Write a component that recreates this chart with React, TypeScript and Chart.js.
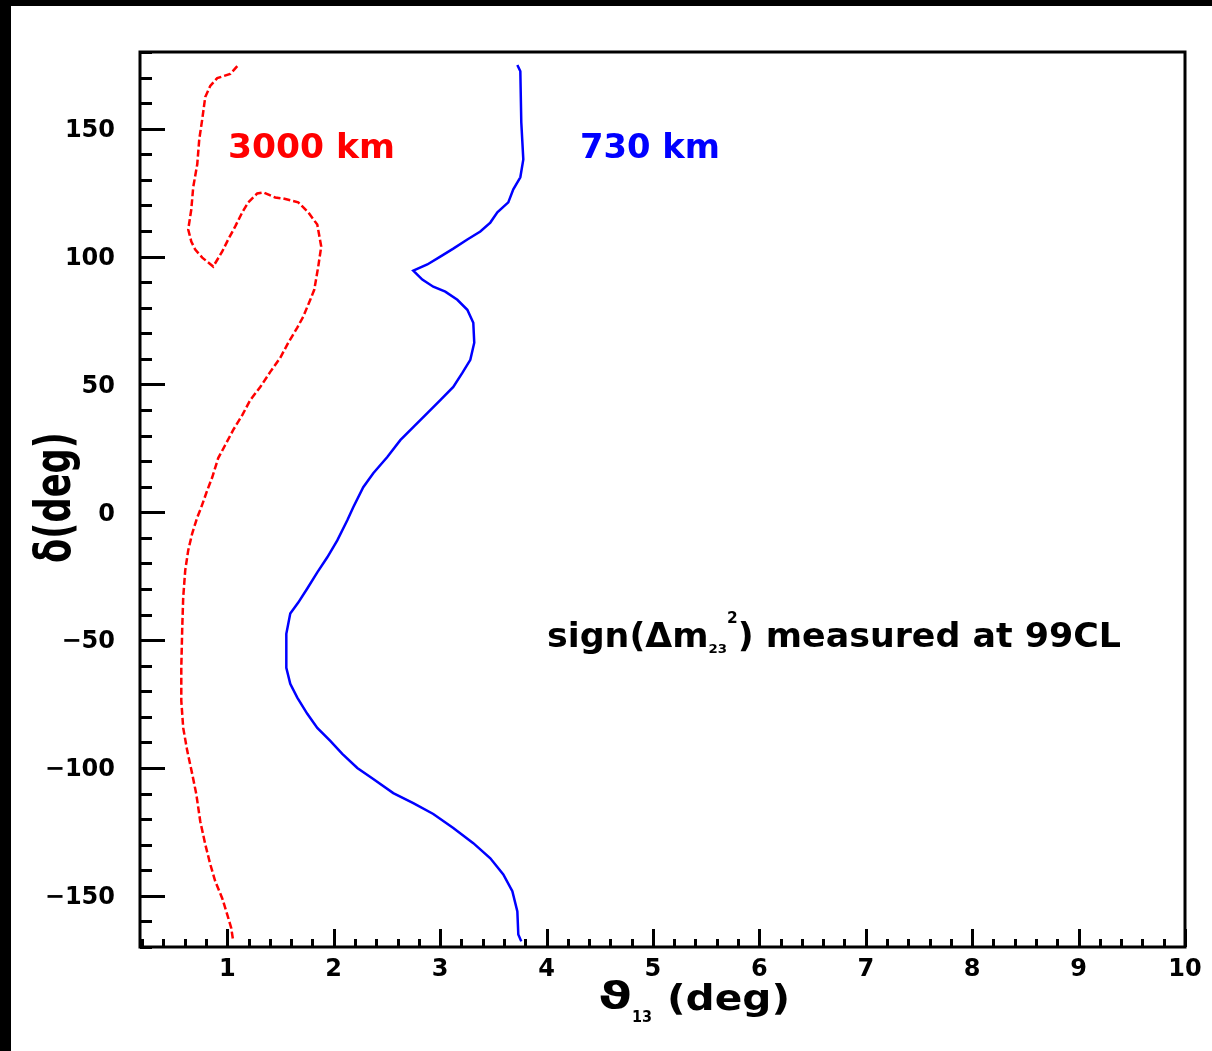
import React, { useEffect, useRef } from 'react';
import { Chart, registerables } from 'chart.js';

Chart.register(...registerables);

const W = 1212;
const H = 1051;

// Axis ranges and tick labels
const X_MIN = 0.18;
const X_MAX = 10;
const Y_MIN = -170;
const Y_MAX = 180;
const xTickValues = [1, 2, 3, 4, 5, 6, 7, 8, 9, 10];
const yTickValues = [-150, -100, -50, 0, 50, 100, 150];

// 3000 km contour (red, dashed): theta13 (deg) and delta (deg)
const red3000Theta = [
  1.094, 1.028, 0.906, 0.84, 0.793, 0.765, 0.737, 0.718, 0.68, 0.662, 0.633, 0.662, 0.699, 0.765, 0.868,
  0.953, 1.009, 1.075, 1.141, 1.197, 1.282, 1.338, 1.451, 1.526, 1.667, 1.761, 1.846, 1.883, 1.855, 1.818,
  1.78, 1.714, 1.658, 1.573, 1.498, 1.404, 1.31, 1.216, 1.141, 1.056, 0.981, 0.915, 0.859, 0.812, 0.756,
  0.718, 0.671, 0.633, 0.605, 0.586, 0.577, 0.568, 0.568, 0.586, 0.624, 0.671, 0.709, 0.746, 0.793, 0.84,
  0.887, 0.953, 1.0, 1.038, 1.056,
];
const red3000Delta = [
  174.5, 171.4, 169.8, 166.7, 162.4, 153.7, 145.9, 136.1, 127.1, 118.4, 110.6, 105.9, 102.7, 99.6, 96.1,
  102.0, 106.7, 111.8, 117.3, 121.2, 124.7, 125.1, 123.1, 122.7, 121.2, 117.3, 112.5, 103.9, 96.1, 87.1,
  83.1, 76.5, 72.2, 66.3, 60.4, 54.9, 49.0, 43.9, 38.0, 32.2, 26.3, 21.2, 13.7, 8.6, 2.0,
  -2.0, -8.2, -14.9, -22.7, -33.3, -45.1, -60.8, -73.7, -84.3, -93.3, -102.4, -110.2, -120.8, -129.8, -137.6,
  -144.3, -151.0, -157.3, -162.7, -167.8,
];

// 730 km contour (blue, solid)
const blue730Theta = [
  3.726, 3.754, 3.763, 3.782, 3.754, 3.688, 3.641, 3.538, 3.472, 3.378, 3.256, 3.124, 3.002, 2.88, 2.748,
  2.833, 2.936, 3.049, 3.162, 3.256, 3.312, 3.321, 3.284, 3.209, 3.124, 3.002, 2.88, 2.748, 2.626, 2.504,
  2.372, 2.278, 2.184, 2.128, 2.034, 1.94, 1.846, 1.752, 1.667, 1.592, 1.555, 1.555, 1.592, 1.658, 1.752,
  1.846, 1.968, 2.081, 2.222, 2.372, 2.56, 2.748, 2.936, 3.124, 3.312, 3.472, 3.594, 3.679, 3.726, 3.735,
  3.763,
];
const blue730Delta = [
  174.9, 172.5, 152.5, 138.0, 131.0, 126.3, 121.2, 117.3, 113.3, 109.8, 106.7, 103.1, 100.0, 96.9, 94.5,
  91.0, 88.2, 86.3, 83.1, 79.2, 74.1, 66.3, 59.6, 54.5, 49.0, 43.9, 38.8, 33.3, 28.2, 21.6,
  15.3, 9.8, 2.0, -3.1, -11.0, -17.6, -23.5, -29.8, -35.3, -39.6, -47.5, -60.8, -67.1, -72.5, -78.8,
  -84.3, -89.4, -94.5, -100.0, -104.3, -109.8, -113.7, -118.0, -123.5, -129.4, -135.3, -141.6, -148.2, -156.1, -165.1,
  -167.8,
];

const FONT = '"DejaVu Sans", "Liberation Sans", sans-serif';

type Run = { t: string; size: number; dy: number };

function drawRuns(
  ctx: CanvasRenderingContext2D,
  runs: Run[],
  x: number,
  baseline: number,
  targetWidth: number,
  color: string,
) {
  ctx.save();
  ctx.fillStyle = color;
  ctx.textAlign = 'left';
  ctx.textBaseline = 'alphabetic';
  let natural = 0;
  const widths = runs.map((r) => {
    ctx.font = `bold ${r.size}px ${FONT}`;
    const w = ctx.measureText(r.t).width;
    natural += w;
    return w;
  });
  const sx = targetWidth / natural;
  ctx.translate(x, baseline);
  ctx.scale(sx, 1);
  let cx = 0;
  runs.forEach((r, i) => {
    ctx.font = `bold ${r.size}px ${FONT}`;
    ctx.fillText(r.t, cx, r.dy);
    cx += widths[i];
  });
  ctx.restore();
}

const decorPlugin = {
  id: 'decor',
  beforeDraw(chart: any) {
    const ctx: CanvasRenderingContext2D = chart.ctx;
    ctx.save();
    ctx.fillStyle = '#ffffff';
    ctx.fillRect(0, 0, W, H);
    ctx.fillStyle = '#000000';
    ctx.fillRect(0, 0, W, 6);
    ctx.fillRect(0, 0, 11, H);
    ctx.restore();
  },
  afterDraw(chart: any) {
    const ctx: CanvasRenderingContext2D = chart.ctx;
    const { left, top, right, bottom } = chart.chartArea;
    const xs = chart.scales.x;
    const ys = chart.scales.y;
    ctx.save();
    ctx.strokeStyle = '#000000';
    ctx.lineWidth = 3;
    ctx.strokeRect(left, top, right - left, bottom - top);

    // y ticks (inside, from left axis)
    for (let v = -170; v <= 180; v += 10) {
      const py = Math.round(ys.getPixelForValue(v)) + 0.5;
      const major = v % 50 === 0;
      const len = major ? 25 : 12;
      ctx.beginPath();
      ctx.moveTo(left, py);
      ctx.lineTo(left + len, py);
      ctx.stroke();
    }
    // x ticks (inside, from bottom axis)
    for (let i = 1; i <= 50; i++) {
      const v = i * 0.2;
      const px = Math.round(xs.getPixelForValue(v)) + 0.5;
      const major = i % 5 === 0;
      const len = major ? 18 : 8;
      ctx.beginPath();
      ctx.moveTo(px, bottom);
      ctx.lineTo(px, bottom - len);
      ctx.stroke();
    }

    // curve labels
    drawRuns(ctx, [{ t: '3000 km', size: 34, dy: 0 }], 228, 158, 167, '#ff0000');
    drawRuns(ctx, [{ t: '730 km', size: 34, dy: 0 }], 580, 158, 140, '#0000ff');
    drawRuns(
      ctx,
      [
        { t: 'sign(\u0394m', size: 34, dy: 0 },
        { t: '23', size: 13, dy: 6 },
        { t: '2', size: 15, dy: -24 },
        { t: ') measured at 99CL', size: 34, dy: 0 },
      ],
      547,
      647,
      574,
      '#000000',
    );

    // x axis title
    drawRuns(ctx, [{ t: '\u03d1', size: 38, dy: 0 }], 598, 1008, 34, '#000000');
    drawRuns(ctx, [{ t: '13', size: 15, dy: 0 }], 632, 1022, 20, '#000000');
    drawRuns(ctx, [{ t: '(deg)', size: 36, dy: 0 }], 667, 1010, 123, '#000000');

    // y axis title (rotated)
    ctx.save();
    ctx.translate(70, 563);
    ctx.rotate(-Math.PI / 2);
    drawRuns(ctx, [{ t: '\u03b4(deg)', size: 50, dy: 0 }], 0, 0, 131, '#000000');
    ctx.restore();

    ctx.restore();
  },
};

export default function App() {
  const canvasRef = useRef<HTMLCanvasElement | null>(null);

  useEffect(() => {
    const canvas = canvasRef.current;
    if (!canvas) return;
    const redData = red3000Theta.map((x, i) => ({ x, y: red3000Delta[i] }));
    const blueData = blue730Theta.map((x, i) => ({ x, y: blue730Delta[i] }));

    const chart = new Chart(canvas, {
      type: 'scatter',
      data: {
        datasets: [
          {
            label: '3000 km',
            data: redData,
            showLine: true,
            borderColor: '#ff0000',
            borderWidth: 2.5,
            borderDash: [7, 3],
            pointRadius: 0,
            tension: 0,
          },
          {
            label: '730 km',
            data: blueData,
            showLine: true,
            borderColor: '#0000ff',
            borderWidth: 2.5,
            pointRadius: 0,
            tension: 0,
          },
        ],
      },
      options: {
        responsive: false,
        animation: false,
        devicePixelRatio: 1,
        layout: { padding: { left: 0, top: 52, right: 27, bottom: 0 } },
        plugins: {
          legend: { display: false },
          tooltip: { enabled: false },
          title: { display: false },
        },
        scales: {
          x: {
            type: 'linear',
            min: X_MIN,
            max: X_MAX,
            grid: { display: false, drawTicks: false },
            border: { display: false },
            afterBuildTicks: (s: any) => {
              s.ticks = xTickValues.map((value) => ({ value }));
            },
            afterFit: (s: any) => {
              s.height = 104;
            },
            ticks: {
              color: '#000000',
              padding: 8,
              maxRotation: 0,
              autoSkip: false,
              font: { family: FONT, size: 24, weight: 'bold' },
              callback: (v: any) => String(v),
            },
          },
          y: {
            type: 'linear',
            min: Y_MIN,
            max: Y_MAX,
            grid: { display: false, drawTicks: false },
            border: { display: false },
            afterBuildTicks: (s: any) => {
              s.ticks = yTickValues.map((value) => ({ value }));
            },
            afterFit: (s: any) => {
              s.width = 140;
            },
            ticks: {
              color: '#000000',
              padding: 25,
              labelOffset: 2,
              autoSkip: false,
              font: { family: FONT, size: 24, weight: 'bold' },
              callback: (v: any) => (Number(v) < 0 ? '\u2212' + Math.abs(Number(v)) : String(v)),
            },
          },
        },
      },
      plugins: [decorPlugin],
    });
    return () => chart.destroy();
  }, []);

  return (
    <div style={{ position: 'fixed', left: 0, top: 0, width: W, height: H, background: '#ffffff' }}>
      <canvas ref={canvasRef} width={W} height={H} style={{ display: 'block', width: W, height: H }} />
    </div>
  );
}
